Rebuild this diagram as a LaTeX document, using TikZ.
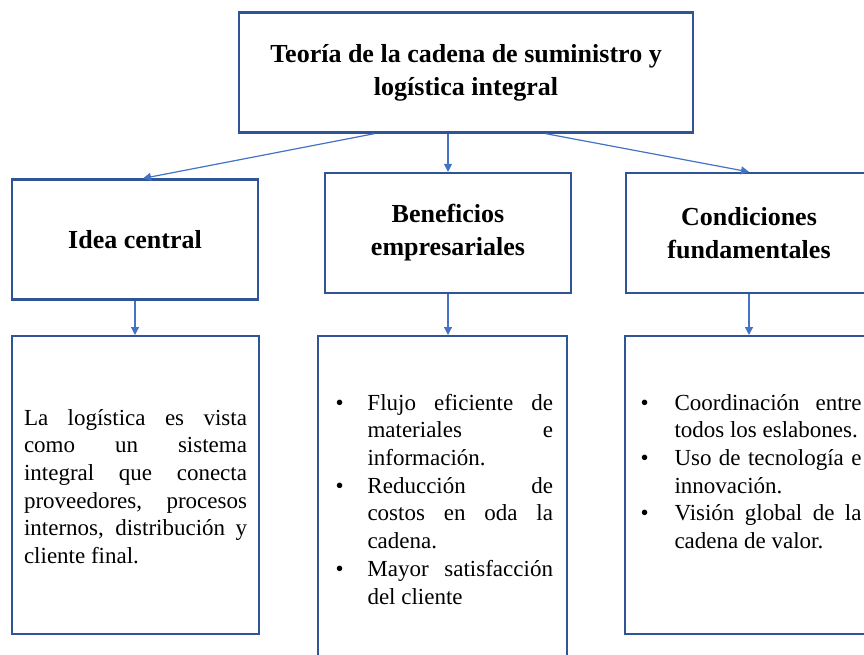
\documentclass[tikz,border=0pt]{standalone}
\usepackage{fontspec}
\setmainfont{Liberation Serif}
\usetikzlibrary{arrows.meta,calc}
\definecolor{boxblue}{RGB}{47,85,151}
\definecolor{arrowblue}{RGB}{68,114,196}
\hyphenpenalty=10000
\tolerance=10000
\hbadness=10000
\newcommand{\bitem}[2]{\hangindent=#1\hangafter=1\noindent\makebox[#1][l]{\textbullet}#2\par}
\newcommand{\titlefont}{\fontsize{26}{33}\selectfont\bfseries}
\newcommand{\bodyfont}{\fontsize{23}{27.7}\selectfont}

\begin{document}
\begin{tikzpicture}[x=1pt, y=-1pt,
box/.style = {draw=boxblue, line width=2.2pt, rectangle, inner sep=0pt},
head/.style = {box, minimum width=#1, minimum height=120pt,
               align=center, font=\titlefont},
head/.default = 246pt,
body/.style = {box, anchor=north, align=justify, font=\bodyfont},
link/.style = {arrowblue, line width=1.2pt, -{Triangle[length=8pt,width=8pt]}}
                ]
    \useasboundingbox (0,0) rectangle (864,655);
    \clip (0,0) rectangle (864,655);

    % title and the three topics
    \node[head=454pt] at (466,72.5) (top) {Teoría de la cadena de suministro y\\ logística integral};
    \node[head] at (135,239.5) (idea) {Idea central};
    \node[head] at (448,233) (ben) {Beneficios\\ empresariales};
    \node[head] at (749,233) (cond) {Condiciones\\ fundamentales};

    % text boxes below
    \node[body, text width=223pt, inner xsep=12pt,
          text height=89pt, text depth=209pt] at (135.5,335) (ltext)
        {\noindent La logística es vista\linebreak como un sistema\linebreak integral que conecta\linebreak
         proveedores, procesos\linebreak internos, distribución y\linebreak cliente final.};
    \node[body, text width=221pt, inner xsep=14pt,
          text height=74pt, text depth=261pt] at (442.5,335) (mtext)
        {\leftskip=3.5pt
         \bitem{32pt}{Flujo eficiente de\linebreak materiales e\linebreak información.}
         \bitem{32pt}{Reducción de\linebreak costos en oda la\linebreak cadena.}
         \bitem{32pt}{Mayor satisfacción\linebreak del cliente}};
    \node[body, text width=224pt, inner xsep=12.5pt,
          text height=74pt, text depth=224pt] at (749.5,335) (rtext)
        {\leftskip=3pt
         \bitem{34pt}{Coordinación entre\linebreak todos los eslabones.}
         \bitem{34pt}{Uso de tecnología e\linebreak innovación.}
         \bitem{34pt}{Visión global de la\linebreak cadena de valor.}};

    \draw[link] ($(top.south west)!0.3!(top.south east)$) -- ($(idea.north)+(8,0)$);
    \draw[link] (top.south -| ben.north) -- (ben.north);
    \draw[link] ($(top.south west)!0.674!(top.south east)$) -- (cond.north);
    \foreach \a/\b in {idea/ltext, ben/mtext, cond/rtext}
        \draw[link] (\a.south) -- (\a.south |- \b.north);
\end{tikzpicture}
\end{document}
